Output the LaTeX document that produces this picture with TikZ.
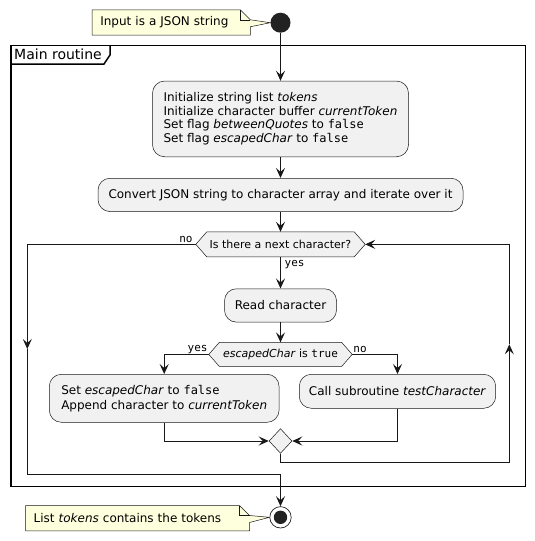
\documentclass[tikz,border=0pt]{standalone}
\usepackage{fontspec}
\setmainfont{DejaVu Sans}
\setmonofont{DejaVu Sans Mono}
\usepackage{tikz}
\usetikzlibrary{arrows.meta,positioning,calc,shapes.geometric,backgrounds}

\definecolor{boxfill}{HTML}{F1F1F1}
\definecolor{boxline}{HTML}{181818}
\definecolor{notefill}{HTML}{FEFFDD}
\definecolor{dotcol}{HTML}{222222}

\newcommand{\hexagonof}[2]{%
	\filldraw[fill=boxfill, draw=boxline, line width=0.5pt] (#1.west) -- ($(#1.north west)+(#2,0)$) -- ($(#1.north east)+(-#2,0)$) -- (#1.east) -- ($(#1.south east)+(-#2,0)$) -- ($(#1.south west)+(#2,0)$) -- cycle;}
\newcommand{\noteof}[2]{%
	\filldraw[fill=notefill, draw=boxline, line width=0.5pt] (#1.north west) -- ($(#1.north east)+(-10,0)$) -- ($(#1.north east)+(0,10)$) -- (#2) -- ($(#1.north east)+(0,17)$) -- (#1.south east) -- (#1.south west) -- cycle;
	\draw[draw=boxline, line width=0.5pt] ($(#1.north east)+(-10,0)$) -- ($(#1.north east)+(-10,10)$) -- ($(#1.north east)+(0,10)$);}

\begin{document}
\begin{tikzpicture}[x=1pt, y=-1pt,
		action/.style={draw=boxline, line width=0.5pt, fill=boxfill, rounded corners=12pt, align=left, inner sep=0pt, font=\fontsize{12}{13.5}\selectfont},
		guard/.style={inner sep=0pt, font=\fontsize{11}{13}\selectfont},
		note/.style={inner xsep=8pt, inner ysep=0pt, align=left, font=\fontsize{12}{14}\selectfont},
		lbl/.style={inner sep=0pt, font=\ttfamily\fontsize{11}{13}\selectfont},
		flow/.style={draw=boxline, line width=1pt, -{Stealth[length=10pt,width=9pt,inset=4pt]}},
		startdot/.style={circle, fill=dotcol, minimum size=20pt, inner sep=0pt},
		enddot/.style={circle, draw=dotcol, line width=0.7pt, fill=white, minimum size=21.4pt, inner sep=0pt,
			path picture={\fill[dotcol] (path picture bounding box.center) circle (6.7pt);}},
		merge/.style={diamond, draw=boxline, line width=0.5pt, fill=boxfill, minimum width=23pt, minimum height=24.6pt, inner sep=0pt}]
		\useasboundingbox (0,0) rectangle (535,541);

		\draw[line width=1.5pt] (11,45.5) rectangle (525.7,486.5);
		\draw[line width=1.5pt] (11,64) -- (104,64) -- (110,55) -- (110,45.5);
		\node[anchor=base west, inner sep=0pt, font=\fontsize{14}{16}\selectfont] (title) at (14,59.5) {Main routine};

		\node[startdot] (start) at (280.5,22.7) {};
		\node[note, text width=141.7pt, minimum height=25pt] (innote) at (171.2,22.5) {Input is a JSON string};

		\node[action, minimum width=256pt, minimum height=75.7pt] (init) at (280.5,118.9) {Initialize string list \textit{tokens}\\Initialize character buffer \textit{currentToken}\\Set flag \textit{betweenQuotes} to \texttt{false}\\Set flag \textit{escapedChar} to \texttt{false}};
		\node[action, minimum width=365pt, minimum height=33.3pt, below=21pt of init] (conv) {Convert JSON string to character array and iterate over it};
		\node[guard, minimum width=169pt, minimum height=24.7pt, below=20pt of conv] (more) {Is there a next character?};
		\node[action, minimum width=112pt, minimum height=33.4pt, below=31.6pt of more] (read) {Read character};
		\node[guard, minimum width=143pt, minimum height=23.6pt, below=20pt of read] (escq) {\textit{escapedChar} is \texttt{true}};
		\node[action, minimum width=229.7pt, minimum height=48pt, font=\fontsize{12}{15}\selectfont] (append) at (164.2,398.3) {Set \textit{escapedChar} to \texttt{false}\\Append character to \textit{currentToken}};
		\node[action, minimum width=196.4pt, minimum height=34pt] (call) at (397.5,391.3) {Call subroutine \textit{testCharacter}};
		\node[merge] (join) at (280.5,441) {};

		\node[enddot] (stop) at (280.5,517.3) {};
		\node[note, text width=207.6pt, minimum height=25pt] (outnote) at (137.5,518.2) {List \textit{tokens} contains the tokens};

		\begin{scope}[on background layer]
			\hexagonof{more}{11}
			\hexagonof{escq}{10.5}
			\noteof{innote}{start.west}
			\noteof{outnote}{stop.west}
		\end{scope}

		\coordinate (exitdown) at (27.3,349);
		\coordinate (exitbottom) at (27.3,474);
		\coordinate (backdown) at (509.3,462.3);
		\coordinate (backup) at (509.3,344.3);

		\draw[flow] (start) -- (init);
		\draw[flow] (init) -- (conv);
		\draw[flow] (conv) -- (more);
		\draw[flow] (more) -- (read);
		\draw[flow] (read) -- (escq);
		\draw[flow] (escq.west) -| (append.north);
		\draw[flow] (escq.east) -| (call.north);
		\draw[flow] (append.south) |- (join.west);
		\draw[flow] (call.south) |- (join.east);
		\draw[flow] (join.south) |- (backdown) -- (backup);
		\draw[flow] (backup) |- (more.east);
		\draw[flow] (more.west) -| (exitdown);
		\draw[flow] (exitdown) -- (exitbottom) -| (stop.north);

		\node[lbl, anchor=south east] (nomore) at ($(more.west)+(-3,-1)$) {no};
		\node[lbl, anchor=north west] (yesmore) at ($(more.south)+(4,3)$) {yes};
		\node[lbl, anchor=south east] (yesesc) at ($(escq.west)+(-1,-0.5)$) {yes};
		\node[lbl, anchor=south west] (noesc) at ($(escq.east)+(1,-2)$) {no};
	\end{tikzpicture}
\end{document}
